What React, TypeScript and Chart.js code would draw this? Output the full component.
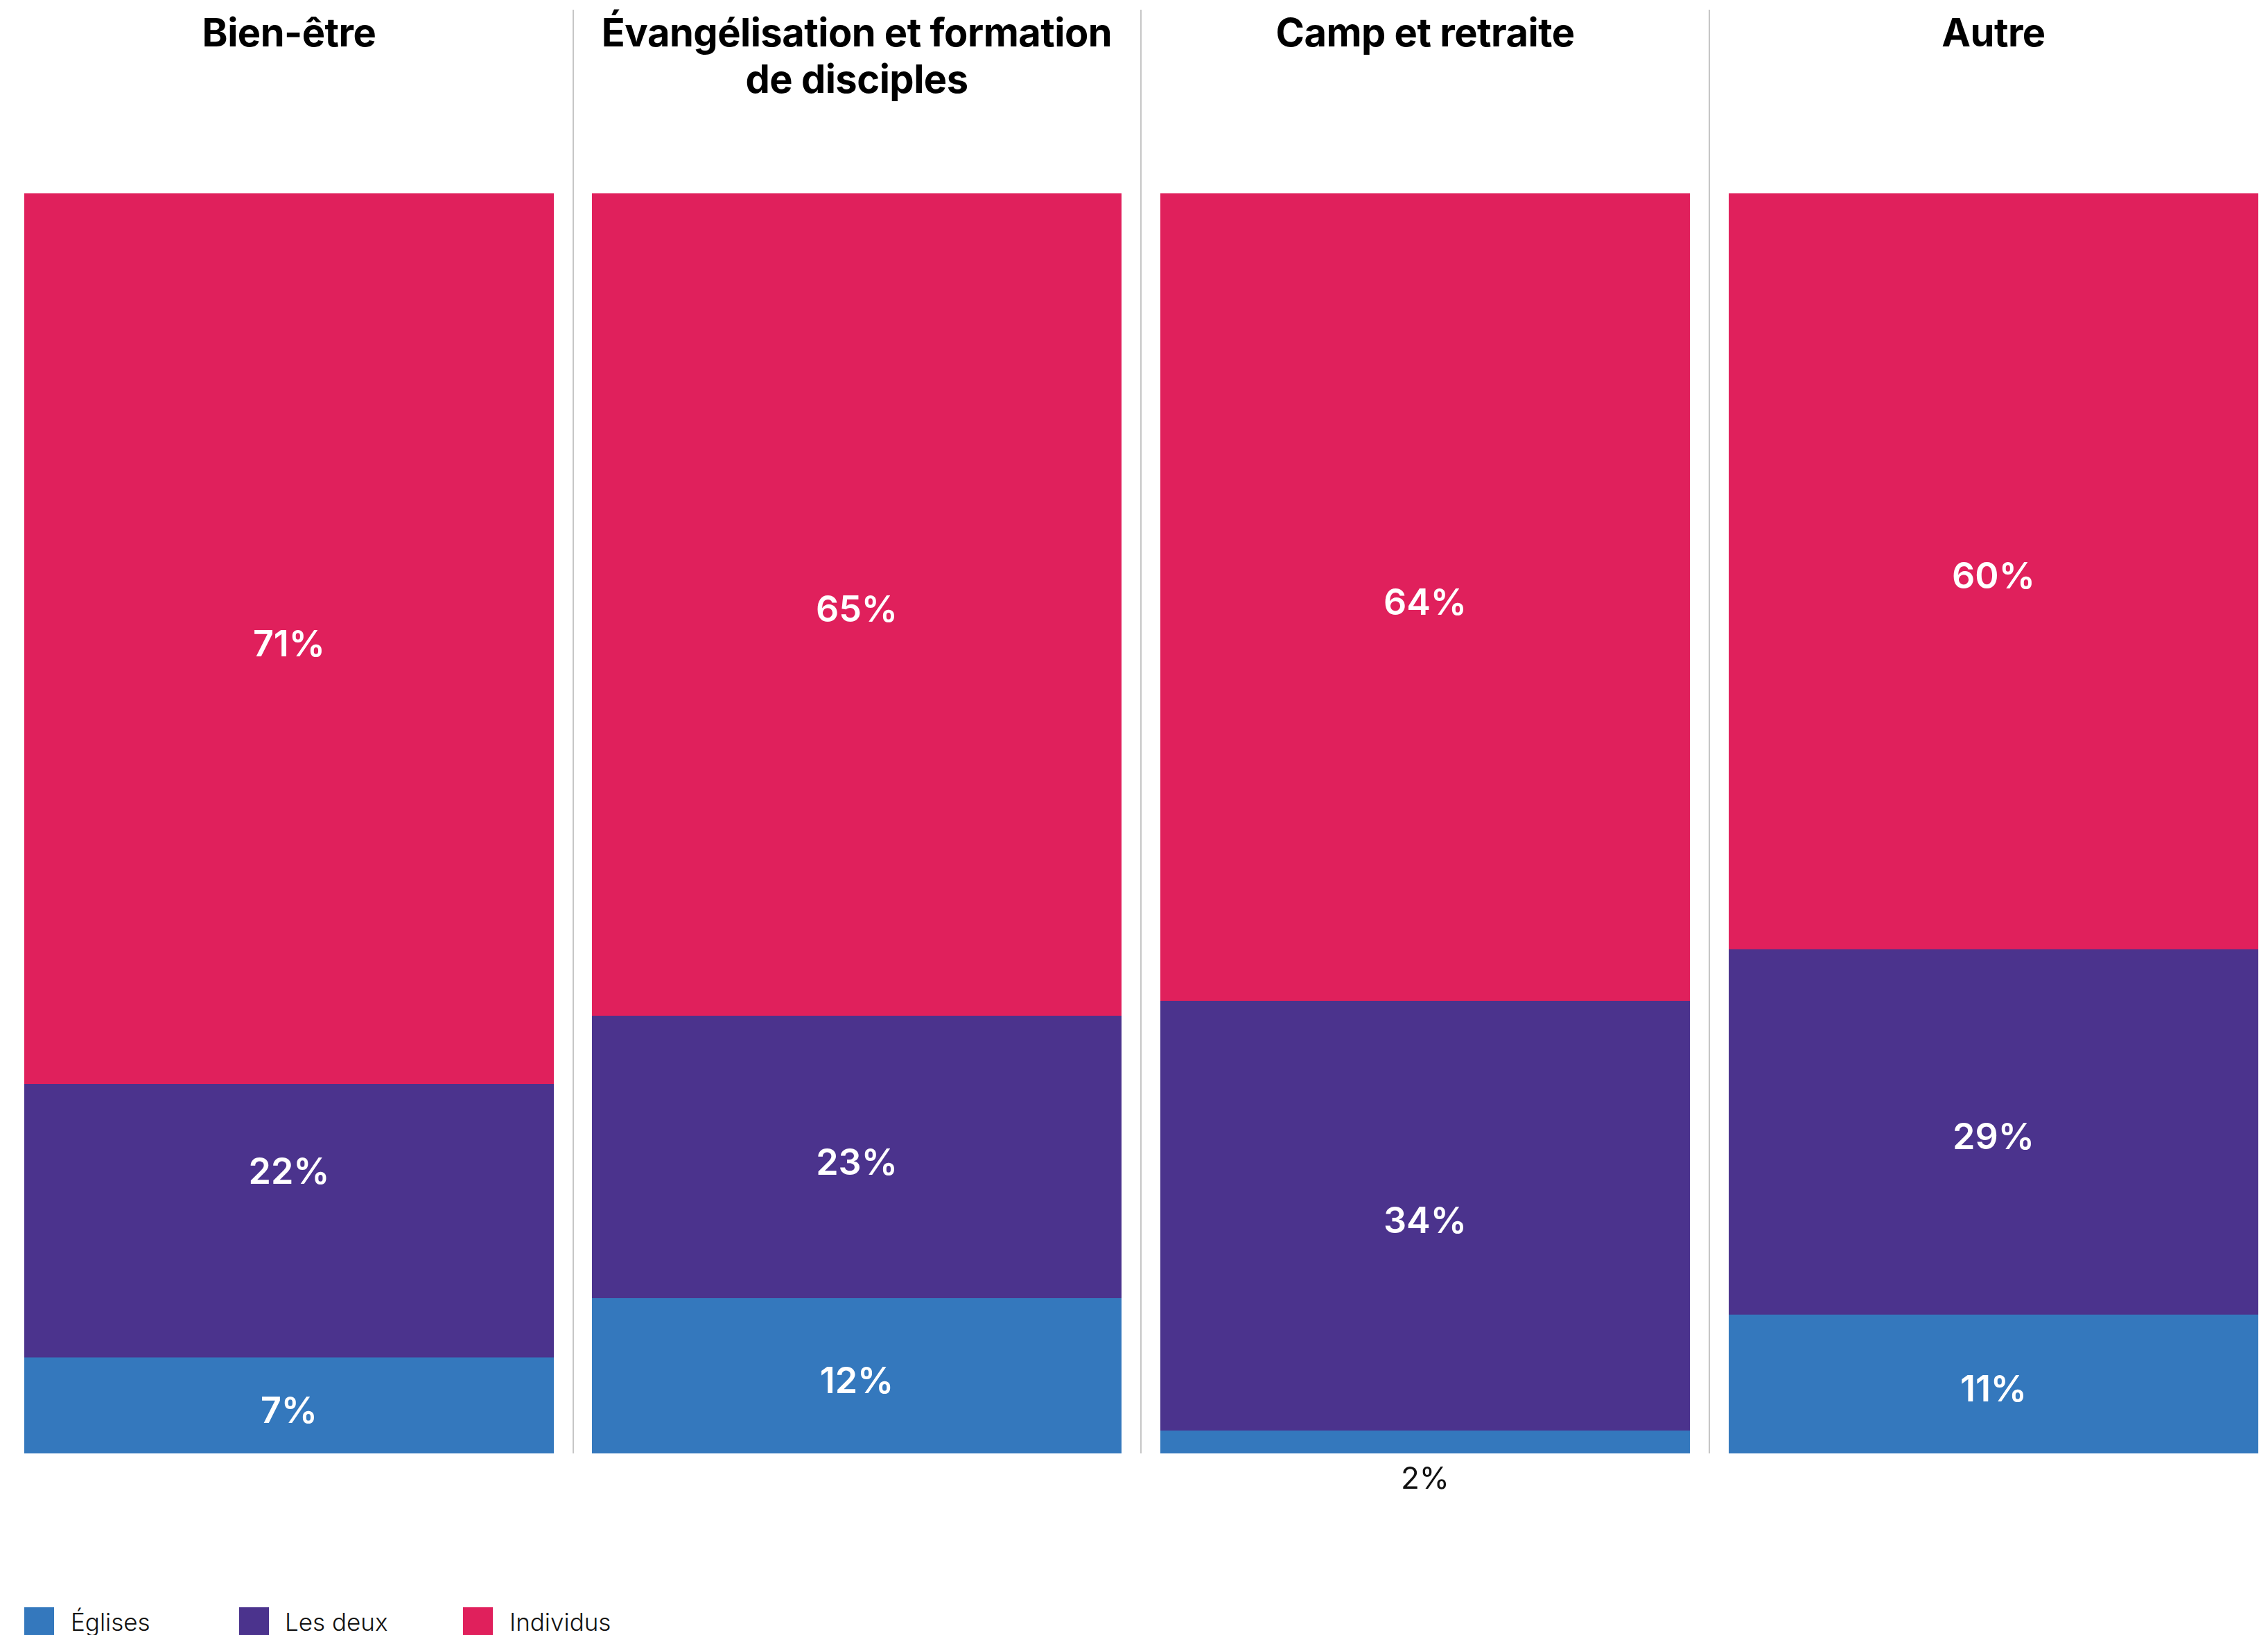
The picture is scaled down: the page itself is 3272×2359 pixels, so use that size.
import React, { useEffect, useRef } from 'react';
import { Chart, registerables } from 'chart.js';

Chart.register(...registerables);

// ---- data ----
const categories = ['Bien-être', 'Évangélisation et formation de disciples', 'Camp et retraite', 'Autre'];
const titleLines = [['Bien-être'], ['Évangélisation et formation', 'de disciples'], ['Camp et retraite'], ['Autre']];
const seriesNames = ['Églises', 'Les deux', 'Individus'];
const eglises = [7.6, 12.3, 1.8, 11.0];
const lesDeux = [21.7, 22.4, 34.1, 29.0];
const individus = [70.7, 65.3, 64.1, 60.0];
const eglisesLabels = ['7%', '12%', '2%', '11%'];
const lesDeuxLabels = ['22%', '23%', '34%', '29%'];
const individusLabels = ['71%', '65%', '64%', '60%'];
const seriesColors = ['#3478bd', '#4b338d', '#e0205c'];

const seriesValues = [eglises, lesDeux, individus];
const seriesLabels = [eglisesLabels, lesDeuxLabels, individusLabels];

// ---- layout ----
const barLefts = [35, 854, 1674, 2494];
const barWidth = 764;
const separatorLefts = [826, 1645, 2465];
const legendSquareLefts = [35, 345, 668];
const legendTextLefts = [102, 411, 735];
const FONT = 'Inter, "Noto Sans", sans-serif';
const CANVAS_H = 2200;
const PLOT_TOP = 279;
const PLOT_BOTTOM = 2097;
// label placement quirk seen in the reference (series index, panel index -> px shift)
const labelShift: Record<string, number> = { '1-0': -78 };

const segLabelPlugin = {
  id: 'segLabels',
  afterDatasetsDraw(chart: any) {
    const ctx = chart.ctx;
    const idx = chart.options.plugins.segLabels.panel;
    chart.data.datasets.forEach((ds: any, di: number) => {
      const meta = chart.getDatasetMeta(di);
      meta.data.forEach((bar: any) => {
        const { x, y, base } = bar.getProps(['x', 'y', 'base'], true);
        const h = Math.abs(base - y);
        const text = seriesLabels[di][idx];
        ctx.save();
        ctx.textAlign = 'center';
        ctx.textBaseline = 'alphabetic';
        if (h > 60) {
          const size = 52;
          ctx.font = `600 ${size}px ${FONT}`;
          ctx.fillStyle = '#ffffff';
          const center = (y + base) / 2 + 6 + (labelShift[di + '-' + idx] || 0);
          ctx.fillText(text, x, center + size * 0.727 / 2);
        } else {
          const size = 44;
          ctx.font = `400 ${size}px ${FONT}`;
          ctx.fillStyle = '#111111';
          ctx.fillText(text, x, Math.max(y, base) + 51);
        }
        ctx.restore();
      });
    });
  },
};

function Panel({ index }: { index: number }) {
  const ref = useRef<HTMLCanvasElement | null>(null);
  useEffect(() => {
    if (!ref.current) return;
    const chart = new Chart(ref.current, {
      type: 'bar',
      data: {
        labels: [categories[index]],
        datasets: seriesNames.map((name, si) => ({
          label: name,
          data: [seriesValues[si][index]],
          backgroundColor: seriesColors[si],
          borderWidth: 0,
          barPercentage: 1,
          categoryPercentage: 1,
        })),
      },
      options: {
        responsive: false,
        animation: false,
        devicePixelRatio: 1,
        layout: { padding: { top: PLOT_TOP, bottom: CANVAS_H - PLOT_BOTTOM, left: 0, right: 0 } },
        scales: {
          x: { stacked: true, display: false },
          y: { stacked: true, display: false, min: 0, max: 100 },
        },
        plugins: {
          legend: { display: false },
          tooltip: { enabled: false },
          title: { display: false },
          segLabels: { panel: index },
        } as any,
      },
      plugins: [segLabelPlugin],
    });
    return () => chart.destroy();
  }, [index]);
  return (
    <canvas
      ref={ref}
      width={barWidth}
      height={CANVAS_H}
      style={{ position: 'absolute', left: barLefts[index], top: 0, width: barWidth, height: CANVAS_H }}
    />
  );
}

export default function App() {
  return (
    <div
      style={{
        position: 'absolute',
        left: 0,
        top: 0,
        width: 3272,
        height: 2359,
        overflow: 'hidden',
        background: '#ffffff',
        fontFamily: FONT,
      }}
    >
      {separatorLefts.map((x, i) => (
        <div
          key={'sep' + i}
          style={{ position: 'absolute', left: x, top: 14, width: 2, height: PLOT_BOTTOM - 14, background: '#c6c6c6' }}
        />
      ))}
      {categories.map((_, i) => (
        <Panel key={'p' + i} index={i} />
      ))}
      {titleLines.map((lines, i) => (
        <div
          key={'t' + i}
          style={{
            position: 'absolute',
            left: barLefts[i] - 30,
            width: barWidth + 60,
            top: 14,
            textAlign: 'center',
            fontSize: 56,
            lineHeight: '67px',
            fontWeight: 700,
            color: '#000',
            letterSpacing: '-0.5px',
          }}
        >
          {lines.map((l, k) => (
            <div key={k}>{l}</div>
          ))}
        </div>
      ))}
      {seriesNames.map((name, i) => (
        <React.Fragment key={'lg' + i}>
          <div
            style={{
              position: 'absolute',
              left: legendSquareLefts[i],
              top: 2319,
              width: 43,
              height: 43,
              background: seriesColors[i],
            }}
          />
          <div
            style={{
              position: 'absolute',
              left: legendTextLefts[i],
              top: 2323,
              fontSize: 35,
              lineHeight: '35px',
              fontWeight: 300,
              color: '#111',
              whiteSpace: 'nowrap',
            }}
          >
            {name}
          </div>
        </React.Fragment>
      ))}
    </div>
  );
}
